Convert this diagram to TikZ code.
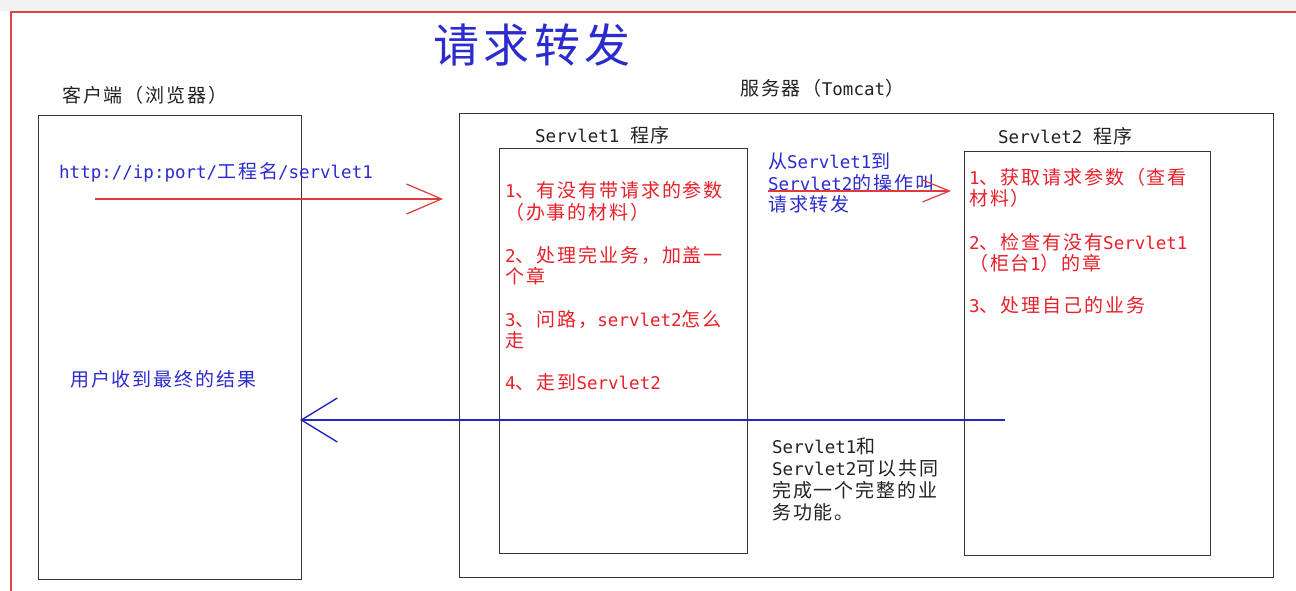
\documentclass[tikz,border=0pt]{standalone}
\usepackage{fontspec}
\setmainfont{Noto Sans CJK SC}[LetterSpace=10]
\newfontfamily\monofnt{DejaVu Sans Mono}
\usetikzlibrary{arrows.meta}
\definecolor{tred}{HTML}{E8202A}
\definecolor{tblue}{HTML}{2B2BD0}
\definecolor{tblack}{HTML}{222222}
\definecolor{lred}{HTML}{E03A3A}
\definecolor{lblue}{HTML}{2626C0}
\definecolor{framered}{HTML}{D84848}
\definecolor{boxgray}{HTML}{333333}
\definecolor{topgray}{HTML}{F2F2F2}
\newcommand\mylat[1]{{\fontsize{17.5}{22}\selectfont\monofnt #1}}
\begin{document}
\begin{tikzpicture}[x=1pt,y=-1pt,
  txt/.style={inner sep=0pt, anchor=west, font=\fontsize{19}{22}\selectfont},
  redtxt/.style={txt, text=tred},
  bluetxt/.style={txt, text=tblue},
  blacktxt/.style={txt, text=tblack},
  panel/.style={draw=boxgray, fill=white, line width=1.4pt, anchor=north west, inner sep=0pt},
  redarrow/.style={draw=lred, line width=1.2pt},
  bluearrow/.style={draw=lblue, line width=1.4pt}]
\useasboundingbox (0,0) rectangle (1296,591);
\fill[topgray] (0,0) rectangle (1296,11);
\draw[framered, line width=1.6pt] (11,591) -- (11,12) -- (1296,12);

% boxes
\node[panel, minimum width=263pt, minimum height=464pt] (client) at (38,115) {};
\node[panel, minimum width=814pt, minimum height=464pt] (server) at (459,113) {};
\node[panel, minimum width=248pt, minimum height=405pt] (s1box) at (499,148) {};
\node[panel, minimum width=246pt, minimum height=404pt] (s2box) at (964,151) {};

% title and labels
\node[inner sep=0pt, text=tblue, font=\fontsize{46}{50}\selectfont] (title) at (532,45) {请求转发};
\node[blacktxt] (clientlbl) at (62,95) {客户端（浏览器）};
\node[blacktxt] (serverlbl) at (740,88) {服务器（\mylat{Tomcat}）};
\node[blacktxt] (s1lbl) at (535,135) {\mylat{Servlet1 }程序};
\node[blacktxt] (s2lbl) at (998,136) {\mylat{Servlet2 }程序};

% client texts
\node[bluetxt] (url) at (59,172) {\mylat{http://ip:port/}工程名\mylat{/servlet1}};
\node[bluetxt] (result) at (70,379) {用户收到最终的结果};

% servlet1 texts
\node[redtxt] (s1a) at (505,190) {\mylat{1}、有没有带请求的参数};
\node[redtxt] (s1b) at (505,212) {（办事的材料）};
\node[redtxt] (s1c) at (505,255) {\mylat{2}、处理完业务，加盖一};
\node[redtxt] (s1d) at (505,276) {个章};
\node[redtxt] (s1e) at (505,320) {\mylat{3}、问路，\mylat{servlet2}怎么};
\node[redtxt] (s1f) at (505,340) {走};
\node[redtxt] (s1g) at (505,382) {\mylat{4}、走到\mylat{Servlet2}};

% middle texts
\node[bluetxt] (m1) at (768,161) {从\mylat{Servlet1}到};
\node[bluetxt] (m2) at (768,183) {\mylat{Servlet2}的操作叫};
\node[bluetxt] (m3) at (768,204) {请求转发};
\node[blacktxt] (b1) at (772,446) {\mylat{Servlet1}和};
\node[blacktxt] (b2) at (772,468) {\mylat{Servlet2}可以共同};
\node[blacktxt] (b3) at (772,490) {完成一个完整的业};
\node[blacktxt] (b4) at (772,512) {务功能。};

% servlet2 texts
\node[redtxt] (s2a) at (969,177) {\mylat{1}、获取请求参数（查看};
\node[redtxt] (s2b) at (969,198) {材料）};
\node[redtxt] (s2c) at (969,242) {\mylat{2}、检查有没有\mylat{Servlet1}};
\node[redtxt] (s2d) at (969,263) {（柜台\mylat{1}）的章};
\node[redtxt] (s2e) at (969,305) {\mylat{3}、处理自己的业务};

% arrows
\coordinate (r1s) at (95,199);
\coordinate (r1e) at (443,199);
\draw[redarrow, -{Straight Barb[length=35pt,width=30pt]}] (r1s) -- (r1e);
\coordinate (r2s) at (768,191);
\coordinate (r2e) at (951,191);
\draw[redarrow, -{Straight Barb[length=27pt,width=22pt]}] (r2s) -- (r2e);
\coordinate (bs) at (1005,420);
\coordinate (be) at (300,420);
\draw[bluearrow, -{Straight Barb[length=36pt,width=44pt]}] (bs) -- (be);
\end{tikzpicture}
\end{document}
